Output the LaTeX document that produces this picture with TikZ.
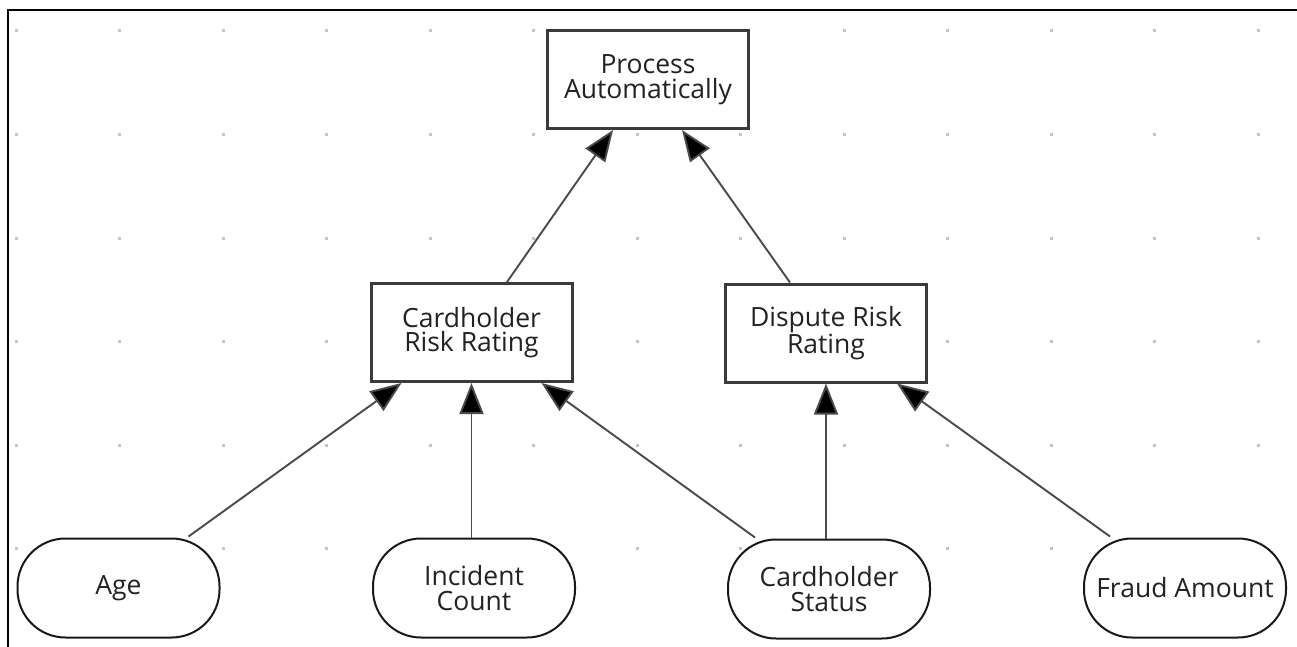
\documentclass[tikz,border=0pt]{standalone}
\usepackage{fontspec}
\setmainfont{Open Sans}
\usetikzlibrary{arrows.meta}
\definecolor{boxline}{HTML}{3A3A3A}
\definecolor{txt}{HTML}{222222}
\definecolor{edgec}{HTML}{4A4A4A}
\definecolor{dotc}{HTML}{C4C4C4}
\tikzset{
  decision/.style={draw=boxline, line width=3pt, fill=white, rectangle, minimum width=201pt, minimum height=98pt, inner sep=0pt, align=center, text=txt, font=\fontsize{26.5}{24.5}\selectfont},
  inputdata/.style={draw=black!90, line width=2pt, fill=white, rectangle, rounded corners=48pt, minimum width=202pt, minimum height=99pt, inner sep=0pt, align=center, text=txt, font=\fontsize{26.5}{24.5}\selectfont},
  req/.style={draw=edgec, line width=1.9pt, -{Triangle[length=31pt,width=24pt,fill=black]}},
}
\begin{document}
\begin{tikzpicture}[x=1pt,y=-1pt]
\useasboundingbox (0,0) rectangle (1297,647);
\fill[white] (0,0) rectangle (1297,647);
% grid dots
\foreach \i in {0,...,12} {
  \foreach \j in {0,...,5} {
    \fill[dotc] ({16+103.5*\i-1.5},{31+103.5*\j-1.5}) rectangle ++(3,3);
  }
}
% frame
\draw[black, line width=2.5pt] (8,647) -- (8,10) -- (1297,10);
% nodes
\node[decision] (pa) at (648,79.5) {Process\\Automatically};
\node[decision] (crr) at (471.5,332.5) {Cardholder\\Risk Rating};
\node[decision] (drr) at (826,333) {Dispute Risk\\Rating};
\node[inputdata] (age) at (118.5,588) {Age};
\node[inputdata] (inc) at (474,588) {Incident\\Count};
\node[inputdata] (cs) at (829,589) {Cardholder\\Status};
\node[inputdata] (fa) at (1185,588) {Fraud Amount};
% connectors
\draw[req] ([xshift=35.5pt]crr.north) -- ([xshift=-35pt]pa.south);
\draw[req] ([xshift=-36pt]drr.north) -- ([xshift=34pt]pa.south);
\draw[req] ([xshift=70pt,yshift=1pt]age.north) -- ([xshift=-70pt]crr.south);
\draw[req] (inc.north -| crr.south) -- (crr.south);
\draw[req] ([xshift=-74pt,yshift=1pt]cs.north) -- ([xshift=70pt]crr.south);
\draw[req] (cs.north -| drr.south) -- (drr.south);
\draw[req] ([xshift=-75pt,yshift=1pt]fa.north) -- ([xshift=71pt]drr.south);
\end{tikzpicture}
\end{document}
